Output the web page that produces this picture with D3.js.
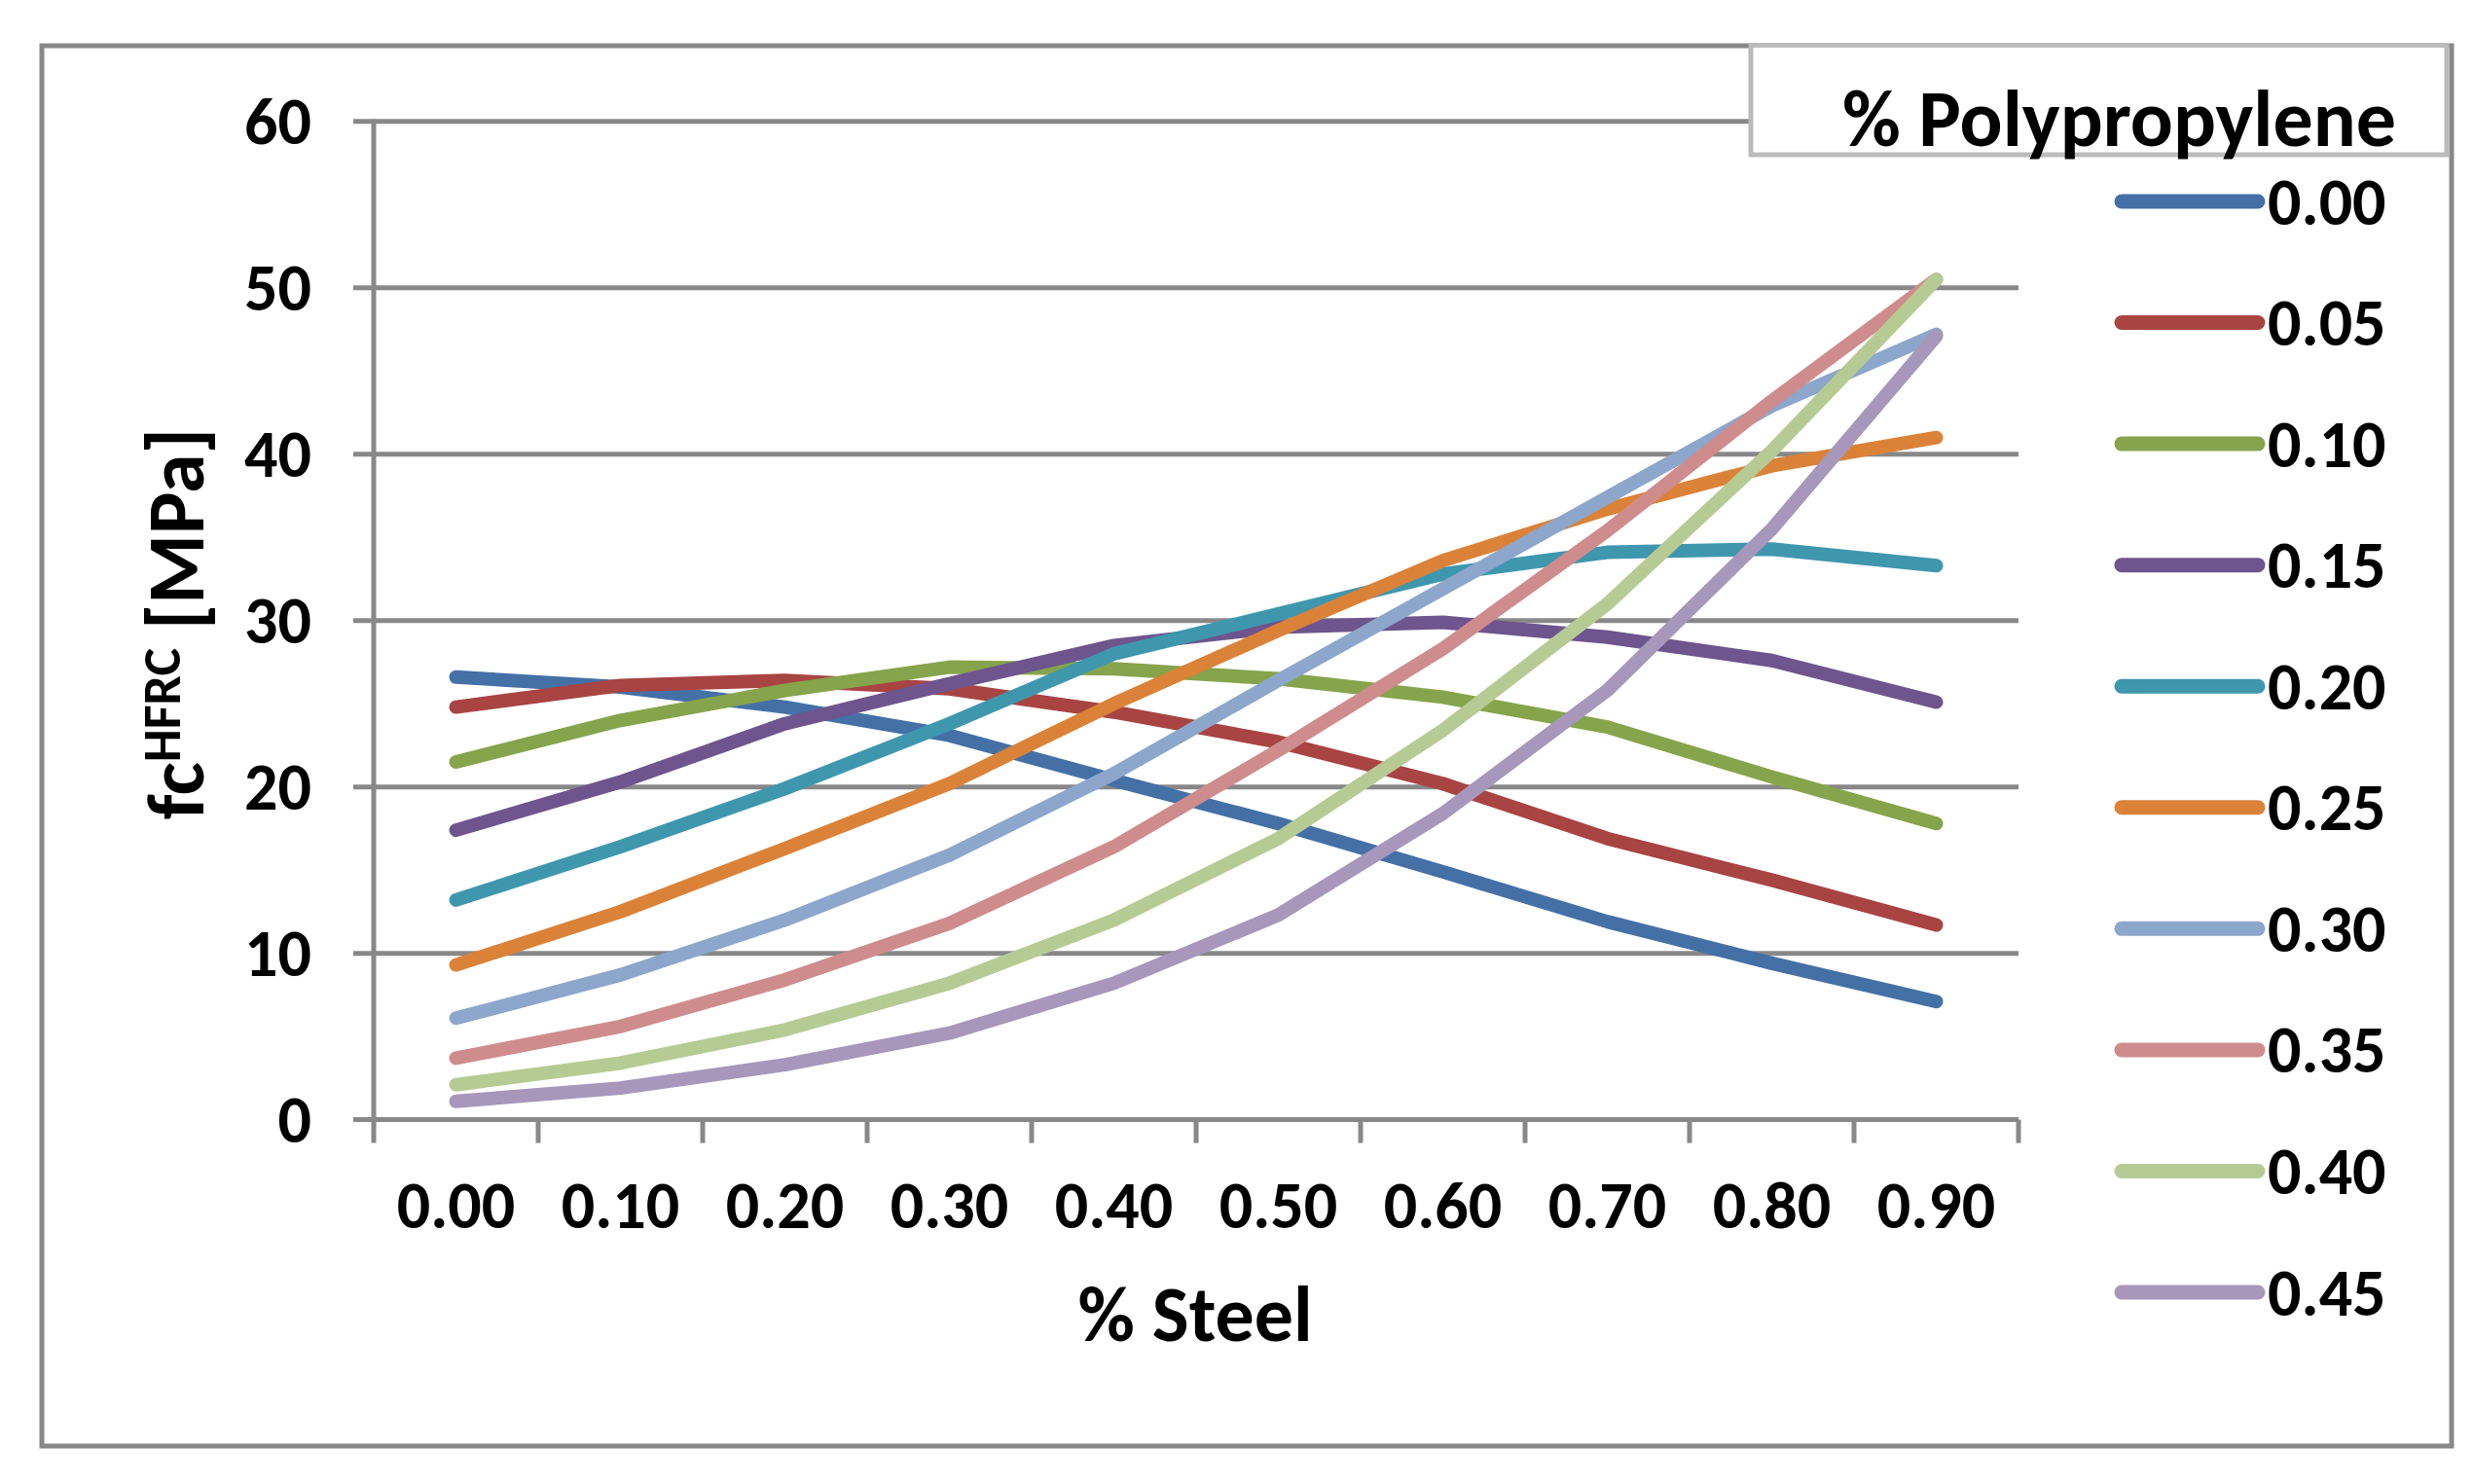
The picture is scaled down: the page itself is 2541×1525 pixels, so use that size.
<!DOCTYPE html>
<html lang="en">
<head>
<meta charset="UTF-8">
<title>fc HFRC vs % Steel</title>
<script src="https://d3js.org/d3.v7.min.js"></script>
<style>
    body { margin: 0; background: #fff; }
    svg text { font-family: Calibri, Carlito, "Open Sans", sans-serif; font-weight: bold; fill: #000; }
</style>
</head>
<body>
<svg id="chart" width="2541" height="1525"></svg>
<script>
// % steel categories (x axis)
const steel = ["0.00", "0.10", "0.20", "0.30", "0.40", "0.50", "0.60", "0.70", "0.80", "0.90"];
// % polypropylene series names
const polyNames = ["0.00", "0.05", "0.10", "0.15", "0.20", "0.25", "0.30", "0.35", "0.40", "0.45"];
const yTicks = [0, 10, 20, 30, 40, 50, 60];

// fc values [MPa], one array per polypropylene content
const pp000 = [26.6, 26.0, 24.8, 23.1, 20.4, 17.8, 14.9, 11.9, 9.4, 7.1];
const pp005 = [24.8, 26.1, 26.4, 25.9, 24.5, 22.7, 20.2, 16.9, 14.4, 11.7];
const pp010 = [21.5, 24.0, 25.8, 27.2, 27.1, 26.5, 25.4, 23.6, 20.6, 17.8];
const pp015 = [17.4, 20.3, 23.8, 26.2, 28.5, 29.6, 29.9, 29.0, 27.6, 25.1];
const pp020 = [13.2, 16.4, 19.9, 23.8, 28.0, 30.4, 32.8, 34.1, 34.3, 33.3];
const pp025 = [9.3, 12.5, 16.3, 20.2, 25.0, 29.4, 33.6, 36.7, 39.3, 41.0];
const pp030 = [6.1, 8.7, 12.0, 15.9, 20.8, 26.4, 31.9, 37.4, 42.9, 47.2];
const pp035 = [3.7, 5.6, 8.4, 11.8, 16.4, 22.2, 28.3, 35.4, 43.2, 50.5];
const pp040 = [2.1, 3.4, 5.4, 8.2, 12.0, 16.9, 23.4, 31.0, 40.2, 50.5];
const pp045 = [1.1, 1.9, 3.3, 5.2, 8.2, 12.3, 18.4, 25.8, 35.5, 47.1];

const seriesValues = [pp000, pp005, pp010, pp015, pp020, pp025, pp030, pp035, pp040, pp045];
const colors = ["#4470a6", "#a84442", "#86a44b", "#6e558d", "#3f97ae", "#db8239",
                "#8da6cb", "#cf8c8c", "#b6cb94", "#a697bb"];

const svg = d3.select("#chart");
const gridColor = "#888888";

// outer chart frame
svg.append("rect")
    .attr("x", 43).attr("y", 47)
    .attr("width", 2519 - 43).attr("height", 1486 - 47)
    .attr("fill", "#fff")
    .attr("stroke", gridColor).attr("stroke-width", 5);

const plotLeft = 384, plotRight = 2074, plotTop = 124.8, plotBottom = 1150.6;

const x = d3.scaleBand().domain(steel).range([plotLeft, plotRight]).padding(0);
const y = d3.scaleLinear().domain([0, 60]).range([plotBottom, plotTop]);

// gridlines + y ticks (tick runs out to the left of the axis)
svg.append("g").selectAll("line")
    .data(yTicks)
    .join("line")
    .attr("x1", plotLeft - 21).attr("x2", plotRight)
    .attr("y1", d => y(d)).attr("y2", d => y(d))
    .attr("stroke", gridColor).attr("stroke-width", 5);

// y axis line
svg.append("line")
    .attr("x1", plotLeft).attr("x2", plotLeft)
    .attr("y1", y(60) - 2).attr("y2", plotBottom + 24)
    .attr("stroke", gridColor).attr("stroke-width", 5);

// x ticks at category boundaries
const bounds = steel.map(d => x(d)).concat([plotRight]);
svg.append("g").selectAll("line")
    .data(bounds.slice(1))
    .join("line")
    .attr("x1", d => d).attr("x2", d => d)
    .attr("y1", plotBottom).attr("y2", plotBottom + 24)
    .attr("stroke", gridColor).attr("stroke-width", 5);

// y tick labels
svg.append("g").selectAll("text")
    .data(yTicks)
    .join("text")
    .attr("x", 320).attr("y", d => y(d))
    .attr("text-anchor", "end")
    .attr("dominant-baseline", "central")
    .attr("font-size", 68)
    .text(d => d);

// x tick labels
svg.append("g").selectAll("text")
    .data(steel)
    .join("text")
    .attr("x", d => x(d) + x.bandwidth() / 2)
    .attr("y", 1262)
    .attr("text-anchor", "middle")
    .attr("font-size", 68)
    .text(d => d);

// axis titles
svg.append("text")
    .attr("x", 1228).attr("y", 1378)
    .attr("text-anchor", "middle")
    .attr("font-size", 80)
    .text("% Steel");

const yTitle = svg.append("text")
    .attr("transform", "translate(209,641) rotate(-90)")
    .attr("text-anchor", "middle")
    .attr("font-size", 82);
yTitle.append("tspan").text("fc");
yTitle.append("tspan").attr("font-size", 54).attr("dy", -24).text("HFRC");
yTitle.append("tspan").attr("dy", 24).text(" [MPa]");

// series lines
const line = d3.line()
    .x((d, i) => x(steel[i]) + x.bandwidth() / 2)
    .y(d => y(d));

svg.append("g").selectAll("path")
    .data(seriesValues)
    .join("path")
    .attr("d", d => line(d))
    .attr("fill", "none")
    .attr("stroke", (d, i) => colors[i])
    .attr("stroke-width", 14)
    .attr("stroke-linejoin", "round")
    .attr("stroke-linecap", "round");

// legend title box
svg.append("rect")
    .attr("x", 1799).attr("y", 46.5)
    .attr("width", 2514 - 1799).attr("height", 159 - 46.5)
    .attr("fill", "#fff")
    .attr("stroke", "#bbbbbb").attr("stroke-width", 5);

svg.append("text")
    .attr("x", 2462).attr("y", 150)
    .attr("text-anchor", "end")
    .attr("font-size", 82)
    .text("% Polypropylene");

// legend entries
const legendY = d3.scaleLinear().domain([0, 9]).range([207, 1328]);
const legend = svg.append("g").selectAll("g")
    .data(polyNames)
    .join("g")
    .attr("transform", (d, i) => `translate(0,${legendY(i)})`);

legend.append("line")
    .attr("x1", 2180).attr("x2", 2320)
    .attr("y1", 0).attr("y2", 0)
    .attr("stroke", (d, i) => colors[i])
    .attr("stroke-width", 15)
    .attr("stroke-linecap", "round");

legend.append("text")
    .attr("x", 2330).attr("y", 0)
    .attr("dominant-baseline", "central")
    .attr("font-size", 68)
    .text(d => d);
</script>
</body>
</html>
